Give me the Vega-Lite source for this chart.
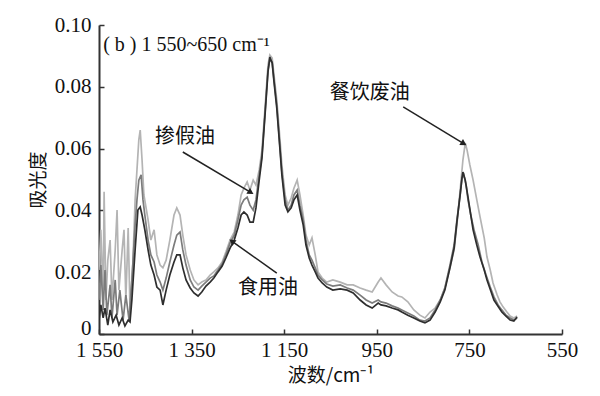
{
"$schema": "https://vega.github.io/schema/vega-lite/v6.json",
"width": 463, "height": 309,
"autosize": "none",
"padding": {"left": 99, "top": 25, "right": 38, "bottom": 62},
"background": "white",
"config": {"view": {"stroke": null}},
"datasets": {
"spec": [
{"s":"L","x":1550,"y":0.0207},{"s":"L","x":1546,"y":0.0337},{"s":"L","x":1541,"y":0.0110},{"s":"L","x":1539,"y":0.0460},{"s":"L","x":1535,"y":0.0110},{"s":"L","x":1531,"y":0.0239},{"s":"L","x":1526,"y":0.0304},{"s":"L","x":1522,"y":0.0110},{"s":"L","x":1515,"y":0.0272},{"s":"L","x":1511,"y":0.0401},{"s":"L","x":1507,"y":0.0142},{"s":"L","x":1500,"y":0.0272},{"s":"L","x":1496,"y":0.0337},{"s":"L","x":1492,"y":0.0110},{"s":"L","x":1487,"y":0.0343},{"s":"L","x":1483,"y":0.0078},{"s":"L","x":1477,"y":0.0223},{"s":"L","x":1472,"y":0.0434},{"s":"L","x":1468,"y":0.0531},{"s":"L","x":1464,"y":0.0628},{"s":"L","x":1461,"y":0.0660},{"s":"L","x":1457,"y":0.0563},{"s":"L","x":1453,"y":0.0450},{"s":"L","x":1444,"y":0.0369},{"s":"L","x":1438,"y":0.0304},{"s":"L","x":1431,"y":0.0337},{"s":"L","x":1425,"y":0.0256},{"s":"L","x":1418,"y":0.0223},{"s":"L","x":1412,"y":0.0214},{"s":"L","x":1405,"y":0.0239},{"s":"L","x":1397,"y":0.0304},{"s":"L","x":1388,"y":0.0385},{"s":"L","x":1382,"y":0.0408},{"s":"L","x":1375,"y":0.0385},{"s":"L","x":1369,"y":0.0320},{"s":"L","x":1362,"y":0.0256},{"s":"L","x":1353,"y":0.0207},{"s":"L","x":1345,"y":0.0175},{"s":"L","x":1336,"y":0.0159},{"s":"L","x":1328,"y":0.0168},{"s":"L","x":1319,"y":0.0175},{"s":"L","x":1310,"y":0.0191},{"s":"L","x":1302,"y":0.0201},{"s":"L","x":1293,"y":0.0214},{"s":"L","x":1284,"y":0.0233},{"s":"L","x":1276,"y":0.0265},{"s":"L","x":1267,"y":0.0304},{"s":"L","x":1258,"y":0.0330},{"s":"L","x":1250,"y":0.0385},{"s":"L","x":1243,"y":0.0450},{"s":"L","x":1237,"y":0.0472},{"s":"L","x":1230,"y":0.0492},{"s":"L","x":1224,"y":0.0466},{"s":"L","x":1217,"y":0.0498},{"s":"L","x":1211,"y":0.0482},{"s":"L","x":1204,"y":0.0531},{"s":"L","x":1198,"y":0.0595},{"s":"L","x":1191,"y":0.0741},{"s":"L","x":1185,"y":0.0871},{"s":"L","x":1181,"y":0.0903},{"s":"L","x":1176,"y":0.0893},{"s":"L","x":1172,"y":0.0838},{"s":"L","x":1166,"y":0.0757},{"s":"L","x":1159,"y":0.0628},{"s":"L","x":1155,"y":0.0547},{"s":"L","x":1148,"y":0.0450},{"s":"L","x":1142,"y":0.0417},{"s":"L","x":1135,"y":0.0440},{"s":"L","x":1129,"y":0.0472},{"s":"L","x":1122,"y":0.0498},{"s":"L","x":1116,"y":0.0450},{"s":"L","x":1109,"y":0.0385},{"s":"L","x":1103,"y":0.0320},{"s":"L","x":1096,"y":0.0288},{"s":"L","x":1090,"y":0.0311},{"s":"L","x":1083,"y":0.0256},{"s":"L","x":1077,"y":0.0201},{"s":"L","x":1068,"y":0.0181},{"s":"L","x":1058,"y":0.0168},{"s":"L","x":1045,"y":0.0175},{"s":"L","x":1029,"y":0.0168},{"s":"L","x":1014,"y":0.0159},{"s":"L","x":1001,"y":0.0159},{"s":"L","x":986,"y":0.0149},{"s":"L","x":973,"y":0.0142},{"s":"L","x":960,"y":0.0136},{"s":"L","x":947,"y":0.0168},{"s":"L","x":941,"y":0.0181},{"s":"L","x":930,"y":0.0159},{"s":"L","x":917,"y":0.0136},{"s":"L","x":904,"y":0.0123},{"s":"L","x":896,"y":0.0120},{"s":"L","x":883,"y":0.0104},{"s":"L","x":870,"y":0.0078},{"s":"L","x":857,"y":0.0061},{"s":"L","x":846,"y":0.0052},{"s":"L","x":835,"y":0.0071},{"s":"L","x":824,"y":0.0084},{"s":"L","x":813,"y":0.0110},{"s":"L","x":803,"y":0.0149},{"s":"L","x":792,"y":0.0214},{"s":"L","x":783,"y":0.0272},{"s":"L","x":777,"y":0.0353},{"s":"L","x":770,"y":0.0466},{"s":"L","x":764,"y":0.0563},{"s":"L","x":759,"y":0.0618},{"s":"L","x":755,"y":0.0595},{"s":"L","x":749,"y":0.0547},{"s":"L","x":742,"y":0.0498},{"s":"L","x":734,"y":0.0434},{"s":"L","x":727,"y":0.0379},{"s":"L","x":718,"y":0.0311},{"s":"L","x":712,"y":0.0249},{"s":"L","x":705,"y":0.0207},{"s":"L","x":699,"y":0.0165},{"s":"L","x":690,"y":0.0126},{"s":"L","x":684,"y":0.0104},{"s":"L","x":677,"y":0.0087},{"s":"L","x":669,"y":0.0071},{"s":"L","x":662,"y":0.0058},{"s":"L","x":654,"y":0.0052},{"s":"L","x":647,"y":0.0058},
{"s":"M","x":1550,"y":0.0110},{"s":"M","x":1546,"y":0.0223},{"s":"M","x":1541,"y":0.0078},{"s":"M","x":1537,"y":0.0207},{"s":"M","x":1533,"y":0.0061},{"s":"M","x":1526,"y":0.0159},{"s":"M","x":1522,"y":0.0052},{"s":"M","x":1515,"y":0.0175},{"s":"M","x":1511,"y":0.0061},{"s":"M","x":1505,"y":0.0142},{"s":"M","x":1498,"y":0.0045},{"s":"M","x":1492,"y":0.0126},{"s":"M","x":1485,"y":0.0045},{"s":"M","x":1479,"y":0.0175},{"s":"M","x":1472,"y":0.0353},{"s":"M","x":1468,"y":0.0434},{"s":"M","x":1464,"y":0.0498},{"s":"M","x":1459,"y":0.0515},{"s":"M","x":1455,"y":0.0434},{"s":"M","x":1451,"y":0.0385},{"s":"M","x":1444,"y":0.0304},{"s":"M","x":1438,"y":0.0256},{"s":"M","x":1431,"y":0.0233},{"s":"M","x":1425,"y":0.0191},{"s":"M","x":1418,"y":0.0168},{"s":"M","x":1412,"y":0.0142},{"s":"M","x":1405,"y":0.0181},{"s":"M","x":1397,"y":0.0233},{"s":"M","x":1388,"y":0.0288},{"s":"M","x":1382,"y":0.0320},{"s":"M","x":1375,"y":0.0330},{"s":"M","x":1369,"y":0.0272},{"s":"M","x":1362,"y":0.0223},{"s":"M","x":1353,"y":0.0175},{"s":"M","x":1345,"y":0.0152},{"s":"M","x":1336,"y":0.0142},{"s":"M","x":1328,"y":0.0155},{"s":"M","x":1319,"y":0.0168},{"s":"M","x":1310,"y":0.0181},{"s":"M","x":1302,"y":0.0188},{"s":"M","x":1293,"y":0.0207},{"s":"M","x":1284,"y":0.0227},{"s":"M","x":1276,"y":0.0256},{"s":"M","x":1267,"y":0.0294},{"s":"M","x":1258,"y":0.0320},{"s":"M","x":1250,"y":0.0369},{"s":"M","x":1243,"y":0.0417},{"s":"M","x":1237,"y":0.0434},{"s":"M","x":1230,"y":0.0443},{"s":"M","x":1224,"y":0.0417},{"s":"M","x":1217,"y":0.0401},{"s":"M","x":1211,"y":0.0434},{"s":"M","x":1204,"y":0.0515},{"s":"M","x":1198,"y":0.0579},{"s":"M","x":1191,"y":0.0725},{"s":"M","x":1185,"y":0.0854},{"s":"M","x":1181,"y":0.0887},{"s":"M","x":1176,"y":0.0880},{"s":"M","x":1172,"y":0.0822},{"s":"M","x":1166,"y":0.0741},{"s":"M","x":1159,"y":0.0602},{"s":"M","x":1155,"y":0.0524},{"s":"M","x":1148,"y":0.0434},{"s":"M","x":1142,"y":0.0401},{"s":"M","x":1135,"y":0.0417},{"s":"M","x":1129,"y":0.0450},{"s":"M","x":1122,"y":0.0466},{"s":"M","x":1116,"y":0.0417},{"s":"M","x":1109,"y":0.0369},{"s":"M","x":1103,"y":0.0304},{"s":"M","x":1096,"y":0.0256},{"s":"M","x":1090,"y":0.0239},{"s":"M","x":1083,"y":0.0214},{"s":"M","x":1077,"y":0.0191},{"s":"M","x":1068,"y":0.0175},{"s":"M","x":1058,"y":0.0162},{"s":"M","x":1045,"y":0.0155},{"s":"M","x":1029,"y":0.0159},{"s":"M","x":1014,"y":0.0149},{"s":"M","x":1001,"y":0.0142},{"s":"M","x":986,"y":0.0126},{"s":"M","x":973,"y":0.0110},{"s":"M","x":960,"y":0.0100},{"s":"M","x":947,"y":0.0110},{"s":"M","x":941,"y":0.0104},{"s":"M","x":930,"y":0.0100},{"s":"M","x":917,"y":0.0091},{"s":"M","x":904,"y":0.0084},{"s":"M","x":896,"y":0.0078},{"s":"M","x":883,"y":0.0068},{"s":"M","x":870,"y":0.0058},{"s":"M","x":857,"y":0.0045},{"s":"M","x":846,"y":0.0042},{"s":"M","x":835,"y":0.0052},{"s":"M","x":824,"y":0.0078},{"s":"M","x":813,"y":0.0110},{"s":"M","x":803,"y":0.0149},{"s":"M","x":792,"y":0.0223},{"s":"M","x":783,"y":0.0288},{"s":"M","x":777,"y":0.0369},{"s":"M","x":770,"y":0.0450},{"s":"M","x":766,"y":0.0505},{"s":"M","x":762,"y":0.0515},{"s":"M","x":757,"y":0.0482},{"s":"M","x":753,"y":0.0434},{"s":"M","x":747,"y":0.0385},{"s":"M","x":740,"y":0.0337},{"s":"M","x":731,"y":0.0288},{"s":"M","x":723,"y":0.0233},{"s":"M","x":714,"y":0.0191},{"s":"M","x":705,"y":0.0152},{"s":"M","x":697,"y":0.0120},{"s":"M","x":688,"y":0.0094},{"s":"M","x":680,"y":0.0078},{"s":"M","x":671,"y":0.0061},{"s":"M","x":662,"y":0.0052},{"s":"M","x":654,"y":0.0045},{"s":"M","x":647,"y":0.0052},
{"s":"D","x":1550,"y":0.0045},{"s":"D","x":1546,"y":0.0094},{"s":"D","x":1541,"y":0.0052},{"s":"D","x":1537,"y":0.0084},{"s":"D","x":1531,"y":0.0029},{"s":"D","x":1526,"y":0.0078},{"s":"D","x":1520,"y":0.0039},{"s":"D","x":1513,"y":0.0061},{"s":"D","x":1507,"y":0.0029},{"s":"D","x":1500,"y":0.0052},{"s":"D","x":1494,"y":0.0026},{"s":"D","x":1487,"y":0.0045},{"s":"D","x":1483,"y":0.0039},{"s":"D","x":1479,"y":0.0110},{"s":"D","x":1472,"y":0.0272},{"s":"D","x":1466,"y":0.0401},{"s":"D","x":1461,"y":0.0411},{"s":"D","x":1457,"y":0.0385},{"s":"D","x":1451,"y":0.0337},{"s":"D","x":1444,"y":0.0272},{"s":"D","x":1438,"y":0.0223},{"s":"D","x":1431,"y":0.0191},{"s":"D","x":1425,"y":0.0152},{"s":"D","x":1418,"y":0.0142},{"s":"D","x":1412,"y":0.0094},{"s":"D","x":1405,"y":0.0142},{"s":"D","x":1397,"y":0.0191},{"s":"D","x":1388,"y":0.0233},{"s":"D","x":1382,"y":0.0256},{"s":"D","x":1375,"y":0.0256},{"s":"D","x":1369,"y":0.0214},{"s":"D","x":1362,"y":0.0175},{"s":"D","x":1353,"y":0.0149},{"s":"D","x":1345,"y":0.0133},{"s":"D","x":1336,"y":0.0123},{"s":"D","x":1328,"y":0.0136},{"s":"D","x":1319,"y":0.0155},{"s":"D","x":1310,"y":0.0168},{"s":"D","x":1302,"y":0.0181},{"s":"D","x":1293,"y":0.0201},{"s":"D","x":1284,"y":0.0220},{"s":"D","x":1276,"y":0.0246},{"s":"D","x":1267,"y":0.0278},{"s":"D","x":1258,"y":0.0304},{"s":"D","x":1250,"y":0.0343},{"s":"D","x":1243,"y":0.0385},{"s":"D","x":1237,"y":0.0395},{"s":"D","x":1230,"y":0.0385},{"s":"D","x":1224,"y":0.0362},{"s":"D","x":1217,"y":0.0362},{"s":"D","x":1211,"y":0.0408},{"s":"D","x":1204,"y":0.0498},{"s":"D","x":1198,"y":0.0570},{"s":"D","x":1191,"y":0.0718},{"s":"D","x":1185,"y":0.0848},{"s":"D","x":1181,"y":0.0896},{"s":"D","x":1176,"y":0.0877},{"s":"D","x":1172,"y":0.0816},{"s":"D","x":1166,"y":0.0731},{"s":"D","x":1159,"y":0.0595},{"s":"D","x":1155,"y":0.0515},{"s":"D","x":1148,"y":0.0417},{"s":"D","x":1142,"y":0.0395},{"s":"D","x":1135,"y":0.0408},{"s":"D","x":1129,"y":0.0434},{"s":"D","x":1122,"y":0.0450},{"s":"D","x":1116,"y":0.0401},{"s":"D","x":1109,"y":0.0353},{"s":"D","x":1103,"y":0.0288},{"s":"D","x":1096,"y":0.0246},{"s":"D","x":1090,"y":0.0223},{"s":"D","x":1083,"y":0.0201},{"s":"D","x":1077,"y":0.0181},{"s":"D","x":1068,"y":0.0165},{"s":"D","x":1058,"y":0.0152},{"s":"D","x":1045,"y":0.0142},{"s":"D","x":1029,"y":0.0146},{"s":"D","x":1014,"y":0.0142},{"s":"D","x":1001,"y":0.0133},{"s":"D","x":986,"y":0.0110},{"s":"D","x":973,"y":0.0094},{"s":"D","x":960,"y":0.0084},{"s":"D","x":947,"y":0.0100},{"s":"D","x":941,"y":0.0094},{"s":"D","x":930,"y":0.0091},{"s":"D","x":917,"y":0.0084},{"s":"D","x":904,"y":0.0078},{"s":"D","x":896,"y":0.0071},{"s":"D","x":883,"y":0.0061},{"s":"D","x":870,"y":0.0052},{"s":"D","x":857,"y":0.0042},{"s":"D","x":846,"y":0.0036},{"s":"D","x":835,"y":0.0045},{"s":"D","x":824,"y":0.0071},{"s":"D","x":813,"y":0.0104},{"s":"D","x":803,"y":0.0142},{"s":"D","x":792,"y":0.0214},{"s":"D","x":783,"y":0.0278},{"s":"D","x":777,"y":0.0362},{"s":"D","x":770,"y":0.0450},{"s":"D","x":766,"y":0.0505},{"s":"D","x":764,"y":0.0524},{"s":"D","x":759,"y":0.0498},{"s":"D","x":753,"y":0.0443},{"s":"D","x":747,"y":0.0385},{"s":"D","x":742,"y":0.0337},{"s":"D","x":734,"y":0.0288},{"s":"D","x":727,"y":0.0249},{"s":"D","x":718,"y":0.0207},{"s":"D","x":712,"y":0.0175},{"s":"D","x":703,"y":0.0136},{"s":"D","x":697,"y":0.0110},{"s":"D","x":690,"y":0.0094},{"s":"D","x":680,"y":0.0071},{"s":"D","x":671,"y":0.0058},{"s":"D","x":662,"y":0.0045},{"s":"D","x":654,"y":0.0042},{"s":"D","x":647,"y":0.0055}
],
"labels": [
{"t":"掺假油","x":1364,"y":0.0638},
{"t":"餐饮废油","x":965,"y":0.078},
{"t":"食用油","x":1185,"y":0.0149}
],
"arrows": [
{"k":"a","x1":1369,"y1":0.0589,"x2":1224,"y2":0.046},
{"k":"a","x1":893,"y1":0.0735,"x2":764,"y2":0.0618},
{"k":"b","x1":1166,"y1":0.0197,"x2":1261,"y2":0.0298}
],
"note": [{"t":"( b ) 1 550~650 cm⁻¹","x":1541,"y":0.0935}]
},
"encoding": {
"x": {"type": "quantitative", "scale": {"domain": [550, 1550], "reverse": true, "nice": false, "zero": false},
"axis": {"values": [1550,1350,1150,950,750,550], "title": "波数/cm⁻¹", "grid": false,
"labelExpr": "datum.value >= 1000 ? floor(datum.value/1000) + ' ' + substring(format(datum.value,'d'),1) : format(datum.value,'d')",
"labelFont": "Liberation Serif", "labelFontSize": 21, "labelColor": "#111",
"titleFont": "Noto Sans CJK SC", "titleFontSize": 19, "titleFontWeight": "normal", "titleColor": "#111", "titlePadding": 6,
"domainColor": "#333", "domainWidth": 2, "tickColor": "#333", "tickWidth": 1.5, "tickSize": -5, "labelPadding": 10, "labelFlush": false, "labelOverlap": false}},
"y": {"type": "quantitative", "scale": {"domain": [0, 0.1], "nice": false},
"axis": {"values": [0,0.02,0.04,0.06,0.08,0.1], "title": "吸光度", "grid": false,
"labelExpr": "datum.value == 0 ? '0' : format(datum.value,'.2f')",
"labelBaseline": {"condition": {"test": "datum.value == 0", "value": "alphabetic"}, "value": "middle"},
"labelFont": "Liberation Serif", "labelFontSize": 21, "labelColor": "#111",
"titleFont": "Noto Sans CJK SC", "titleFontSize": 19, "titleFontWeight": "normal", "titleColor": "#111", "titlePadding": 6,
"domainColor": "#333", "domainWidth": 2, "tickColor": "#333", "tickWidth": 1.5, "tickSize": -5, "labelPadding": 13, "labelFlush": false, "labelOverlap": false}}
},
"layer": [
{"data": {"name": "spec"},
"mark": {"type": "line", "strokeWidth": 1.7, "clip": true},
"encoding": {
"x": {"field": "x", "type": "quantitative"},
"y": {"field": "y", "type": "quantitative"},
"color": {"field": "s", "type": "nominal", "scale": {"domain": ["L","M","D"], "range": ["#b4b4b4","#7c7c7c","#2e2e2e"]}, "legend": null},
"order": {"field": "x", "type": "quantitative", "sort": "descending"}
}},
{"data": {"name": "arrows"},
"mark": {"type": "rule", "color": "#222", "strokeWidth": 1.5},
"encoding": {
"x": {"field": "x1", "type": "quantitative"},
"y": {"field": "y1", "type": "quantitative"},
"x2": {"field": "x2"},
"y2": {"field": "y2"}
}},
{"data": {"name": "arrows"},
"transform": [{"filter": "datum.k == 'a'"}],
"mark": {"type": "point", "shape": "triangle", "angle": 121, "filled": true, "color": "#222", "size": 50, "opacity": 1},
"encoding": {
"x": {"field": "x2", "type": "quantitative"},
"y": {"field": "y2", "type": "quantitative"}
}},
{"data": {"name": "arrows"},
"transform": [{"filter": "datum.k == 'b'"}],
"mark": {"type": "point", "shape": "triangle", "angle": 305, "filled": true, "color": "#222", "size": 50, "opacity": 1},
"encoding": {
"x": {"field": "x2", "type": "quantitative"},
"y": {"field": "y2", "type": "quantitative"}
}},
{"data": {"name": "labels"},
"mark": {"type": "text", "font": "Noto Sans CJK SC", "fontSize": 20, "color": "#111", "align": "center", "baseline": "middle"},
"encoding": {
"x": {"field": "x", "type": "quantitative"},
"y": {"field": "y", "type": "quantitative"},
"text": {"field": "t"}
}},
{"data": {"name": "note"},
"mark": {"type": "text", "font": "Liberation Serif", "fontSize": 20, "color": "#111", "align": "left", "baseline": "middle"},
"encoding": {
"x": {"field": "x", "type": "quantitative"},
"y": {"field": "y", "type": "quantitative"},
"text": {"field": "t"}
}}
]
}
